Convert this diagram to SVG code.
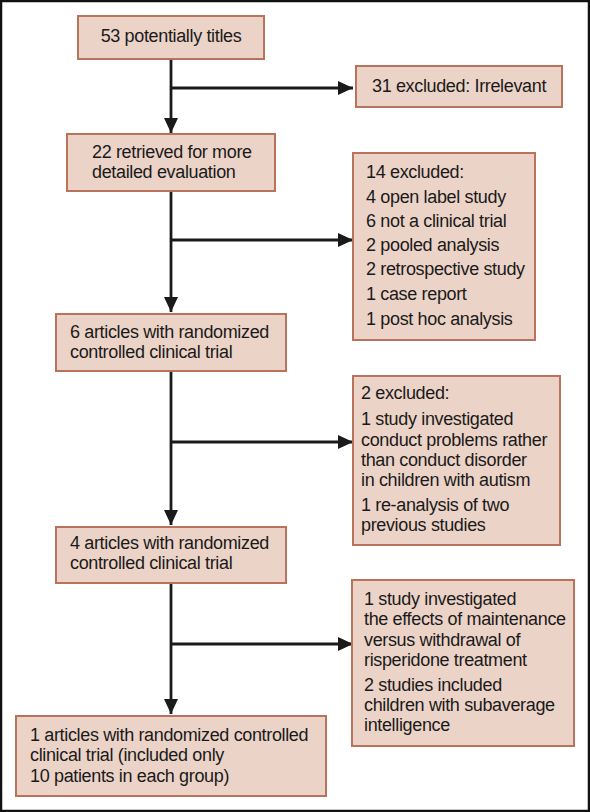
<svg xmlns="http://www.w3.org/2000/svg" width="590" height="812" viewBox="0 0 590 812">
<defs>
<style>
.box{fill:#ecd3c7;stroke:#b9735d;stroke-width:2}
.t{font-family:"Liberation Sans",Arial,sans-serif;font-size:18px;letter-spacing:-0.35px;fill:#1a1a1a}
.c{text-anchor:middle}
.ln{stroke:#1a1a1a;stroke-width:2.8;fill:none}
</style>
<marker id="ah" markerUnits="userSpaceOnUse" markerWidth="16" markerHeight="16" viewBox="0 0 16 16" refX="15" refY="8" orient="auto">
<path d="M0,1 L15,8 L0,15 Z" fill="#1a1a1a"/>
</marker>
</defs>
<rect x="0" y="0" width="590" height="812" fill="#fff"/>
<rect x="1" y="1" width="588" height="810" fill="none" stroke="#111" stroke-width="2.5"/>
<g id="connectors">
<line class="ln" x1="171" y1="59" x2="171" y2="133" marker-end="url(#ah)"/>
<line class="ln" x1="171" y1="88" x2="353" y2="88" marker-end="url(#ah)"/>
<line class="ln" x1="171" y1="191" x2="171" y2="312" marker-end="url(#ah)"/>
<line class="ln" x1="171" y1="240" x2="353" y2="240" marker-end="url(#ah)"/>
<line class="ln" x1="171" y1="371" x2="171" y2="525" marker-end="url(#ah)"/>
<line class="ln" x1="171" y1="442" x2="353" y2="442" marker-end="url(#ah)"/>
<line class="ln" x1="171" y1="583" x2="171" y2="714" marker-end="url(#ah)"/>
<line class="ln" x1="171" y1="644" x2="353" y2="644" marker-end="url(#ah)"/>
</g>
<g id="n1">
<rect class="box" x="78" y="16" width="186" height="43"/>
<text class="t c" x="171" y="42">53 potentially titles</text>
</g>
<g id="n2">
<rect class="box" x="356" y="66" width="206" height="41"/>
<text class="t c" x="459" y="92">31 excluded: Irrelevant</text>
</g>
<g id="n3">
<rect class="box" x="67" y="134" width="208" height="57"/>
<text class="t" x="92" y="158">22 retrieved for more</text>
<text class="t" x="92" y="178">detailed evaluation</text>
</g>
<g id="n4">
<rect class="box" x="353" y="153" width="182" height="187"/>
<text class="t" x="366" y="178">14 excluded:</text>
<text class="t" x="366" y="203">4 open label study</text>
<text class="t" x="366" y="227">6 not a clinical trial</text>
<text class="t" x="366" y="251">2 pooled analysis</text>
<text class="t" x="366" y="275">2 retrospective study</text>
<text class="t" x="366" y="300">1 case report</text>
<text class="t" x="366" y="325">1 post hoc analysis</text>
</g>
<g id="n5">
<rect class="box" x="56" y="314" width="230" height="57"/>
<text class="t" x="70" y="338">6 articles with randomized</text>
<text class="t" x="70" y="358">controlled clinical trial</text>
</g>
<g id="n6">
<rect class="box" x="353" y="376" width="207" height="169"/>
<text class="t" x="361" y="399">2 excluded:</text>
<text class="t" x="361" y="425">1 study investigated</text>
<text class="t" x="361" y="446">conduct problems rather</text>
<text class="t" x="361" y="466">than conduct disorder</text>
<text class="t" x="361" y="486">in children with autism</text>
<text class="t" x="361" y="511">1 re-analysis of two</text>
<text class="t" x="361" y="531">previous studies</text>
</g>
<g id="n7">
<rect class="box" x="56" y="527" width="230" height="56"/>
<text class="t" x="70" y="549">4 articles with randomized</text>
<text class="t" x="70" y="569">controlled clinical trial</text>
</g>
<g id="n8">
<rect class="box" x="352" y="580" width="222" height="166"/>
<text class="t" x="364" y="605">1 study investigated</text>
<text class="t" x="364" y="625">the effects of maintenance</text>
<text class="t" x="364" y="646">versus withdrawal of</text>
<text class="t" x="364" y="666">risperidone treatment</text>
<text class="t" x="364" y="691">2 studies included</text>
<text class="t" x="364" y="711">children with subaverage</text>
<text class="t" x="364" y="731">intelligence</text>
</g>
<g id="n9">
<rect class="box" x="16" y="716" width="310" height="80"/>
<text class="t" x="30" y="741">1 articles with randomized controlled</text>
<text class="t" x="30" y="761">clinical trial (included only</text>
<text class="t" x="30" y="782">10 patients in each group)</text>
</g>
</svg>
